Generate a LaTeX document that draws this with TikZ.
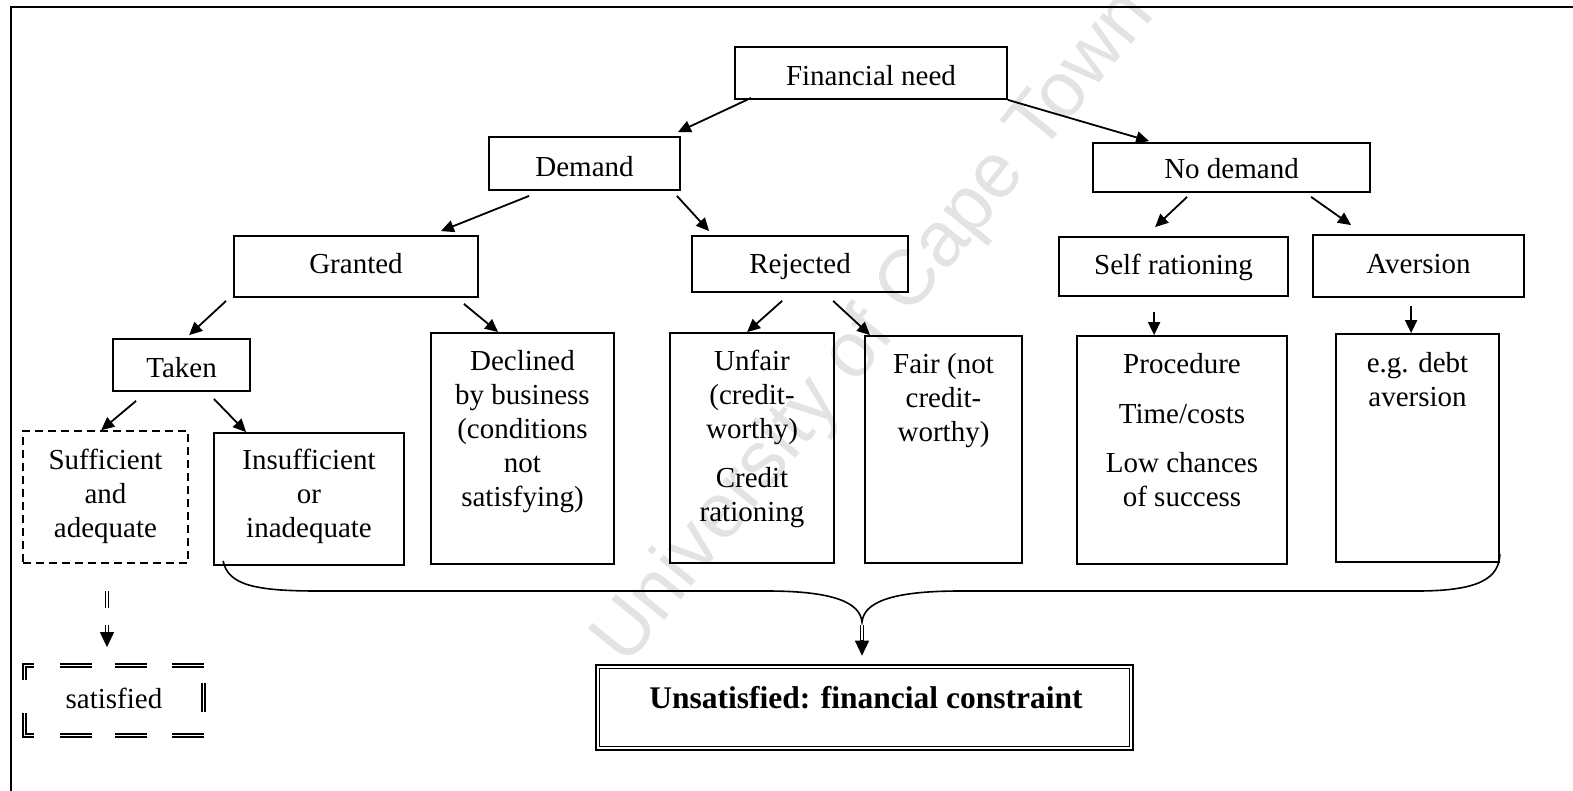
\documentclass[tikz,border=0pt]{standalone}
\usepackage{fontspec}
\setmainfont{Liberation Serif}
\newfontfamily\wmfont{Liberation Sans}
\usetikzlibrary{arrows.meta}

% \card{name}{left}{right}{top}{bottom}{style}: a box given by its edges (y counted downward)
\newcommand\card[6]{%
  \node[box,#6,minimum width={(#3)-(#2)},minimum height={(#5)-(#4)}] (#1)
    at ({((#2)+(#3))/2},{-((#4)+(#5))/2}) {};}
% \cardtext{name}{x}{baseline}{text}: one line of text on a given baseline
\newcommand\cardtext[4]{\node[txt,anchor=base] (#1) at (#2,-#3) {#4};}
% \cardpara{name}{x}{first baseline}{lines}: several centred lines hanging from the first baseline
\newcommand\cardpara[4]{\node[txt,anchor=north] (#1) at (#2,{-((#3)-23.8)}) {\strut #4};}

\begin{document}
\begin{tikzpicture}[x=1pt,y=1pt,
  box/.style={draw,line width=1.8pt,inner sep=0pt},
  txt/.style={font=\fontsize{29}{34}\selectfont,align=center,inner sep=0pt},
  arr/.style={line width=1.8pt,-{Triangle[length=13pt,width=12pt]}},
  dbl/.style={double,line width=1.1pt,double distance=1.6pt},
  dblthick/.style={double,line width=1.5pt,double distance=1.8pt},
  tip/.style={line width=1.2pt,-{Triangle[length=15pt,width=14pt]}},
]
\useasboundingbox (0,0) rectangle (1573,-790);

% watermark
\node[font=\wmfont\fontsize{78}{78}\selectfont,text=black!11,rotate=51,
      anchor=base west,inner sep=0pt] (wm) at (626,-668) {University of Cape Town};

% frame
\draw[line width=2.7pt] (11,-800) -- (11,-7) -- (1590,-7);

% boxes
\card{fn}{735}{1007}{47}{99}{}
\card{dem}{489}{680}{137}{190}{}
\card{nod}{1093}{1370}{143}{192}{}
\card{gra}{234}{478}{236}{297}{}
\card{rej}{692}{908}{236}{292}{}
\card{slf}{1059}{1288}{237}{296}{}
\card{ave}{1313}{1524}{235}{297}{}
\card{tak}{113}{250}{339}{391}{}
\card{dec}{431}{614}{333}{564}{}
\card{unf}{670}{834}{333}{563}{}
\card{fai}{865}{1022}{336}{563}{}
\card{pro}{1077}{1287}{336}{564}{}
\card{egd}{1336}{1499}{334}{562}{}
\card{suf}{23}{188}{431}{563}{dash pattern=on 8pt off 5pt,line width=1.6pt}
\card{ins}{214}{404}{433}{565}{}
\card{sat}{22}{207}{663}{738}{draw=none}
\card{uns}{596}{1133}{665}{750}{line width=2.6pt}
\draw[line width=1.2pt] ([shift={(5,-5)}]uns.north west) rectangle ([shift={(-5,5)}]uns.south east);

% texts
\cardtext{fn-t}{871}{85}{Financial need}
\cardtext{dem-t}{584.5}{176}{Demand}
\cardtext{nod-t}{1231.5}{178}{No demand}
\cardtext{gra-t}{356}{273}{Granted}
\cardtext{rej-t}{800}{273}{Rejected}
\cardtext{slf-t}{1173.5}{274}{Self rationing}
\cardtext{ave-t}{1418.5}{273}{Aversion}
\cardtext{tak-t}{181.5}{377}{Taken}
\cardpara{suf-t}{105.5}{469}{Sufficient\\and\\adequate}
\cardpara{ins-t}{309}{469}{Insufficient\\or\\inadequate}
\cardpara{dec-t}{522.5}{370}{Declined\\by business\\(conditions\\not\\satisfying)}
\cardpara{unf-t}{752}{370}{Unfair\\(credit-\\worthy)\\[15pt]Credit\\rationing}
\cardpara{fai-t}{943.5}{373}{Fair (not\\credit-\\worthy)}
\cardpara{pro-t}{1182}{373}{Procedure\\[16pt]Time/costs\\[15pt]Low chances\\of success}
\cardpara{egd-t}{1417.5}{372}{e.g. debt\\aversion}
\cardtext{sat-t}{114}{708}{satisfied}
\node[font=\bfseries\fontsize{31.5}{36}\selectfont,inner sep=0pt,anchor=base] (uns-t)
  at (866,-708) {Unsatisfied: financial constraint};

% double dashed border of the "satisfied" box
\draw[dblthick] (34,-665.5) -- (24.5,-665.5) -- (24.5,-680);
\draw[dblthick] (24.5,-713) -- (24.5,-735.5) -- (34,-735.5);
\draw[dblthick] (203.5,-683) -- (203.5,-712);
\foreach \a/\b in {60/92,115/147,172/204}{
  \draw[dblthick] (\a,-665.5) -- (\b,-665.5);
  \draw[dblthick] (\a,-735.5) -- (\b,-735.5);
}

% tree arrows
\draw[arr] ([shift={(17,2)}]fn.south west) -- ([shift={(-3,4)}]dem.north east);
\draw[arr] (fn.south east) -- ([shift={(57,1)}]nod.north west);
\draw[arr] ([shift={(41,-5)}]dem.south west) -- ([shift={(-38,4)}]gra.north east);
\draw[arr] ([shift={(-4,-5)}]dem.south east) -- ([shift={(18,4)}]rej.north west);
\draw[arr] ([shift={(-7,-3)}]gra.south west) -- ([shift={(77,3)}]tak.north west);
\draw[arr] ([shift={(-15,-6)}]gra.south east) -- ([shift={(68,0)}]dec.north west);
\draw[arr] ([shift={(91,-8)}]rej.south west) -- ([shift={(78,0)}]unf.north west);
\draw[arr] ([shift={(142,-8)}]rej.south west) -- ([shift={(6,0)}]fai.north west);
\draw[arr] ([shift={(95,-4)}]nod.south west) -- ([shift={(97,9)}]slf.north west);
\draw[arr] ([shift={(219,-4)}]nod.south west) -- ([shift={(39,9)}]ave.north west);
\draw[arr] ([shift={(96,-15)}]slf.south west) -- ([shift={(78,0)}]pro.north west);
\draw[arr] ([shift={(99,-8)}]ave.south west) -- ([shift={(76,0)}]egd.north west);
\draw[arr] ([shift={(24,-9)}]tak.south west) -- ([shift={(79,0)}]suf.north west);
\draw[arr] ([shift={(-37,-7)}]tak.south east) -- ([shift={(33,0)}]ins.north west);

% sufficient -> satisfied
\draw[dbl] ([shift={(1.5,-27)}]suf.south) -- ([shift={(1.5,-44)}]suf.south);
\draw[dbl] ([shift={(1.5,-61)}]suf.south) -- ([shift={(1.5,-71)}]suf.south);
\draw[tip] ([shift={(1.5,-70)}]suf.south) -- ([shift={(-7.5,15)}]sat.north);

% brace gathering the unsatisfied outcomes
\draw[line width=1.6pt] ([shift={(10,5)}]ins.south west)
  .. controls (228,-585) and (255,-591) .. (318,-591) -- (767,-591)
  .. controls (835,-591) and (860,-603) .. (862,-622) coordinate (bp)
  .. controls (864,-603) and (889,-591) .. (960,-591) -- (1417,-591)
  .. controls (1480,-591) and (1499,-578) .. ([yshift=9]egd.south east);
\draw[dbl] ([yshift=-3]bp) -- ([yshift=-19]bp);
\draw[tip] ([yshift=-18]bp) -- ([shift={(-2.5,8)}]uns.north);
\end{tikzpicture}
\end{document}
